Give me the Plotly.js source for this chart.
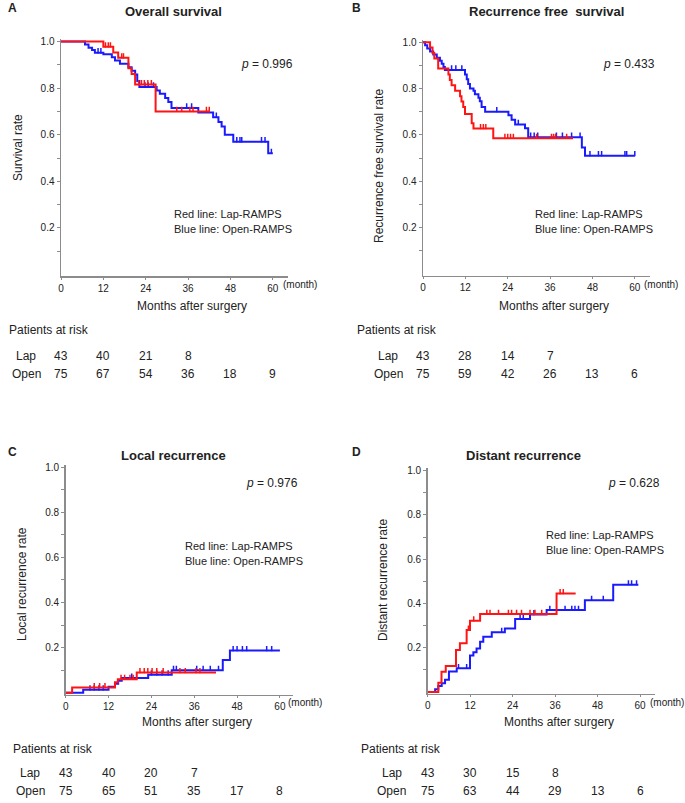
<!DOCTYPE html>
<html>
<head>
<meta charset="utf-8">
<script src="https://cdn.plot.ly/plotly-3.0.1.min.js"></script>
<style>
  body { margin: 0; background: #fff; }
  #chart { width: 685px; height: 803px; }
</style>
</head>
<body>
<div id="chart"></div>
<script>
// time points for the at-risk table and x ticks
const months = [0, 12, 24, 36, 48, 60];

// A: overall survival
const osLapT = [0, 12.0, 14.8, 16.2, 19.1, 20.0, 21.0, 26.8];
const osLapS = [1, 0.977, 0.953, 0.93, 0.885, 0.86, 0.815, 0.70];
const osLapEnd = 42.2;
const osLapCens = [12.6, 13.4, 14.0, 17.2, 17.7, 22.0, 22.8, 23.6, 24.6, 25.6, 32.8, 34.2, 36.5, 37.4, 41.2, 42.0];
const osOpenT = [0, 6.8, 7.8, 8.8, 9.6, 12.0, 14.4, 15.3, 16.7, 19.1, 20.0, 21.0, 21.6, 22.2, 27.1, 28.0, 29.5, 30.4, 31.3, 38.9, 43.1, 44.6, 45.5, 46.4, 48.8, 58.7];
const osOpenS = [1, 0.987, 0.973, 0.963, 0.952, 0.945, 0.932, 0.918, 0.905, 0.89, 0.875, 0.858, 0.83, 0.805, 0.79, 0.776, 0.758, 0.74, 0.715, 0.695, 0.675, 0.655, 0.635, 0.60, 0.57, 0.52];
const osOpenEnd = 60;
const osOpenCens = [10.5, 11.3, 23.8, 24.7, 26.2, 35.6, 37.0, 44.0, 49.8, 50.7, 51.2, 56.8, 57.8, 59.6];

// B: recurrence free survival
const rfsLapT = [0, 2.0, 2.7, 3.2, 4.3, 7.2, 7.6, 8.1, 9.1, 10.5, 10.9, 11.4, 11.9, 13.8, 14.3, 19.9];
const rfsLapS = [1, 0.977, 0.953, 0.93, 0.886, 0.86, 0.837, 0.814, 0.79, 0.767, 0.744, 0.72, 0.69, 0.65, 0.627, 0.585];
const rfsLapEnd = 42.5;
const rfsLapCens = [16.3, 17.1, 17.8, 23.2, 24.0, 24.8, 25.6, 32.2, 36.4, 37.0, 37.6, 40.7];
const rfsOpenT = [0, 0.6, 1.2, 2.0, 2.9, 3.9, 4.8, 5.3, 5.8, 6.2, 11.9, 12.4, 12.8, 13.3, 14.3, 14.7, 15.7, 16.1, 16.6, 17.6, 24.2, 25.1, 26.1, 28.9, 29.8, 45.0, 45.9];
const rfsOpenS = [1, 0.987, 0.973, 0.96, 0.947, 0.933, 0.92, 0.907, 0.893, 0.88, 0.86, 0.84, 0.82, 0.80, 0.79, 0.775, 0.76, 0.745, 0.72, 0.70, 0.685, 0.665, 0.645, 0.628, 0.59, 0.545, 0.51];
const rfsOpenEnd = 60;
const rfsOpenCens = [8.1, 9.3, 11.0, 20.9, 27.0, 30.5, 31.5, 32.5, 37.8, 39.5, 42.1, 44.5, 47.3, 49.7, 50.6, 57.2, 57.7, 60];

// C: local recurrence
const lrLapT = [0, 1.8, 13.8, 14.6, 19.9];
const lrLapS = [0, 0.023, 0.047, 0.06, 0.09];
const lrLapEnd = 42.1;
const lrLapCens = [8.0, 9.5, 11.0, 15.5, 16.5, 18.0, 18.9, 20.8, 22.0, 23.0, 24.2, 25.5, 27.3, 32.0, 33.5, 36.5, 37.6];
const lrOpenT = [0, 4.9, 12.0, 13.8, 14.7, 15.7, 23.1, 29.7, 44.0, 46.0];
const lrOpenS = [0, 0.013, 0.027, 0.04, 0.053, 0.066, 0.08, 0.10, 0.145, 0.187];
const lrOpenEnd = 60;
const lrOpenCens = [6.8, 8.0, 9.3, 10.5, 18.5, 24.0, 25.5, 27.0, 28.7, 30.2, 31.0, 36.7, 38.5, 40.5, 42.8, 46.9, 48.0, 49.5, 50.7, 56.3, 57.7];

// D: distant recurrence
const drLapT = [0, 3.0, 3.9, 5.1, 8.0, 9.1, 11.0, 11.95, 14.8, 36.4];
const drLapS = [0, 0.042, 0.092, 0.118, 0.19, 0.22, 0.28, 0.322, 0.352, 0.445];
const drLapEnd = 41.8;
const drLapCens = [11.5, 13.0, 16.7, 17.6, 20.0, 22.8, 23.7, 25.1, 26.5, 28.9, 30.3, 32.2, 37.4, 38.3];
const drOpenT = [0, 2.1, 3.0, 3.95, 4.9, 6.0, 8.2, 11.95, 12.9, 13.8, 14.8, 15.7, 18.1, 21.8, 24.7, 28.9, 33.6, 44.4, 52.4];
const drOpenS = [0, 0.013, 0.027, 0.04, 0.055, 0.093, 0.107, 0.165, 0.18, 0.197, 0.227, 0.25, 0.27, 0.287, 0.33, 0.35, 0.37, 0.415, 0.485];
const drOpenEnd = 59.5;
const drOpenCens = [8.7, 11.0, 20.9, 26.1, 27.0, 30.0, 34.5, 38.8, 40.7, 41.6, 42.6, 46.3, 49.6, 56.7, 57.6, 59.0];

// patients at risk
const riskLapA = [43, 40, 21, 8];
const riskOpenA = [75, 67, 54, 36, 18, 9];
const riskLapB = [43, 28, 14, 7];
const riskOpenB = [75, 59, 42, 26, 13, 6];
const riskLapC = [43, 40, 20, 7];
const riskOpenC = [75, 65, 51, 35, 17, 8];
const riskLapD = [43, 30, 15, 8];
const riskOpenD = [75, 63, 44, 29, 13, 6];

const W = 685, H = 803;
const RED = "#ff1414", BLUE = "#1a1aff";
const FONT = "Arial, 'Liberation Sans', sans-serif";
const px = p => p / W;
const py = p => 1 - p / H;
const TICK_H = 0.02; // censor tick height, in rate units

function stepAt(t, T, S) {
  let v = S[0];
  for (let i = 0; i < T.length; i++) if (T[i] <= t) v = S[i];
  return v;
}

function curve(T, S, end, cens, color, xa, ya) {
  const line = {
    x: T.concat([end]), y: S.concat([S[S.length - 1]]),
    xaxis: xa, yaxis: ya, type: "scatter", mode: "lines",
    line: { shape: "hv", color: color, width: 2 }, hoverinfo: "skip"
  };
  // censor ticks: short vertical strokes rising from the curve
  const cx = [], cy = [];
  cens.forEach(t => {
    const s = stepAt(t, T, S);
    cx.push(t, t, null);
    cy.push(s - 0.003, s + TICK_H, null);
  });
  const marks = {
    x: cx, y: cy, xaxis: xa, yaxis: ya, type: "scatter", mode: "lines",
    line: { color: color, width: 1.5 }, connectgaps: false, hoverinfo: "skip"
  };
  return [line, marks];
}

// panel geometry in pixels: origin, axis end, px per month, px per unit
const panels = [
  { x0: 61, xEnd: 288, ppm: 3.53, y0: 274.5, ppu: 233 },
  { x0: 423, xEnd: 650, ppm: 3.53, y0: 273.8, ppu: 231.6 },
  { x0: 65.7, xEnd: 293, ppm: 3.57, y0: 692.8, ppu: 225.7 },
  { x0: 427.7, xEnd: 655, ppm: 3.54, y0: 692, ppu: 221.3 }
];

const yTicks = [0.1, 0.2, 0.3, 0.4, 0.5, 0.6, 0.7, 0.8, 0.9, 1.0];
const yText = yTicks.map((v, i) => (i % 2 === 1 ? v.toFixed(1) : ""));
const yLo = -0.008, yHi = 1.01;

const layout = {
  width: W, height: H,
  margin: { l: 0, r: 0, t: 0, b: 0 },
  paper_bgcolor: "#fff", plot_bgcolor: "#fff",
  showlegend: false,
  font: { family: FONT, color: "#222" },
  annotations: []
};

panels.forEach((p, i) => {
  const n = i === 0 ? "" : String(i + 1);
  layout["xaxis" + n] = {
    domain: [px(p.x0), px(p.xEnd)],
    range: [0, (p.xEnd - p.x0) / p.ppm],
    anchor: "y" + n,
    showline: true, linecolor: "#8c8c8c", linewidth: 1.5,
    tickvals: months, ticktext: months.map(String),
    ticks: "outside", ticklen: 2, tickcolor: "#8c8c8c",
    tickfont: { size: 10, color: "#222" },
    showgrid: false, zeroline: false, fixedrange: true
  };
  layout["yaxis" + n] = {
    domain: [py(p.y0 - yLo * p.ppu), py(p.y0 - yHi * p.ppu)],
    range: [yLo, yHi],
    anchor: "x" + n,
    showline: true, linecolor: "#8c8c8c", linewidth: 1.5,
    tickvals: yTicks, ticktext: yText,
    ticks: "outside", ticklen: 3, tickcolor: "#8c8c8c",
    tickfont: { size: 10, color: "#222" },
    showgrid: false, zeroline: false, fixedrange: true
  };
});

const traces = [].concat(
  curve(osOpenT, osOpenS, osOpenEnd, osOpenCens, BLUE, "x", "y"),
  curve(osLapT, osLapS, osLapEnd, osLapCens, RED, "x", "y"),
  curve(rfsOpenT, rfsOpenS, rfsOpenEnd, rfsOpenCens, BLUE, "x2", "y2"),
  curve(rfsLapT, rfsLapS, rfsLapEnd, rfsLapCens, RED, "x2", "y2"),
  curve(lrOpenT, lrOpenS, lrOpenEnd, lrOpenCens, BLUE, "x3", "y3"),
  curve(lrLapT, lrLapS, lrLapEnd, lrLapCens, RED, "x3", "y3"),
  curve(drOpenT, drOpenS, drOpenEnd, drOpenCens, BLUE, "x4", "y4"),
  curve(drLapT, drLapS, drLapEnd, drLapCens, RED, "x4", "y4")
);

function note(text, x, y, opts) {
  layout.annotations.push(Object.assign({
    text: text, x: px(x), y: py(y), xref: "paper", yref: "paper",
    showarrow: false, xanchor: "center", yanchor: "middle",
    font: { family: FONT, size: 12, color: "#222" }
  }, opts || {}));
}

// panel letters and titles
const bold12 = { family: FONT, size: 12, color: "#222" };
const bold13 = { family: FONT, size: 13, color: "#222" };
note("<b>A</b>", 6, 8, { xanchor: "left", font: bold12 });
note("<b>B</b>", 350, 8, { xanchor: "left", font: bold12 });
note("<b>C</b>", 6, 452, { xanchor: "left", font: bold12 });
note("<b>D</b>", 350, 452, { xanchor: "left", font: bold12 });
note("<b>Overall survival</b>", 174, 12, { font: bold13 });
note("<b>Recurrence free  survival</b>", 546, 12, { font: bold13 });
note("<b>Local recurrence</b>", 173, 455, { font: bold13 });
note("<b>Distant recurrence</b>", 523, 455, { font: bold13 });

// y axis titles
note("Survival rate", 18, 148, { textangle: -90 });
note("Recurrence free survival rate", 379, 166, { textangle: -90 });
note("Local recurrence rate", 22, 584, { textangle: -90 });
note("Distant recurrence rate", 383, 580, { textangle: -90 });

// x axis titles and unit
const small = { family: FONT, size: 10, color: "#222" };
note("Months after surgery", 192, 305.5);
note("Months after surgery", 554, 305.5);
note("Months after surgery", 197, 722);
note("Months after surgery", 559, 722);
note("(month)", 300, 284, { font: small });
note("(month)", 661, 284, { font: small });
note("(month)", 305, 702, { font: small });
note("(month)", 667, 702, { font: small });

// p values and line keys
note("<i>p</i> = 0.996", 295, 64, { xanchor: "right" });
note("<i>p</i> = 0.433", 657, 64, { xanchor: "right" });
note("<i>p</i> = 0.976", 300, 483, { xanchor: "right" });
note("<i>p</i> = 0.628", 662, 483, { xanchor: "right" });
const keyFont = { family: FONT, size: 11, color: "#222" };
[[172, 214], [533, 214], [183, 546], [544, 535]].forEach(k => {
  note("Red line: Lap-RAMPS", k[0], k[1], { xanchor: "left", font: keyFont });
  note("Blue line: Open-RAMPS", k[0], k[1] + 15, { xanchor: "left", font: keyFont });
});

// patients at risk tables
const tables = [
  { xa: "x", left: 7, lab: 26, top: 330, gap: 26, lap: riskLapA, open: riskOpenA },
  { xa: "x2", left: 355, lab: 388, top: 330, gap: 26, lap: riskLapB, open: riskOpenB },
  { xa: "x3", left: 11, lab: 30, top: 749, gap: 24, lap: riskLapC, open: riskOpenC },
  { xa: "x4", left: 359, lab: 392, top: 749, gap: 24, lap: riskLapD, open: riskOpenD }
];
const numFont = { family: FONT, size: 12, color: "#222" };
tables.forEach(t => {
  const rowLap = t.top + t.gap, rowOpen = rowLap + 18;
  note("Patients at risk", t.left, t.top, { xanchor: "left" });
  note("Lap", t.lab, rowLap);
  note("Open", t.lab, rowOpen);
  [[t.lap, rowLap], [t.open, rowOpen]].forEach(r => {
    r[0].forEach((v, i) => layout.annotations.push({
      text: String(v), x: months[i], y: py(r[1]), xref: t.xa, yref: "paper",
      xanchor: "center", yanchor: "middle",
      showarrow: false, font: numFont
    }));
  });
});

Plotly.newPlot("chart", traces, layout, { displayModeBar: false, staticPlot: true });
</script>
</body>
</html>
